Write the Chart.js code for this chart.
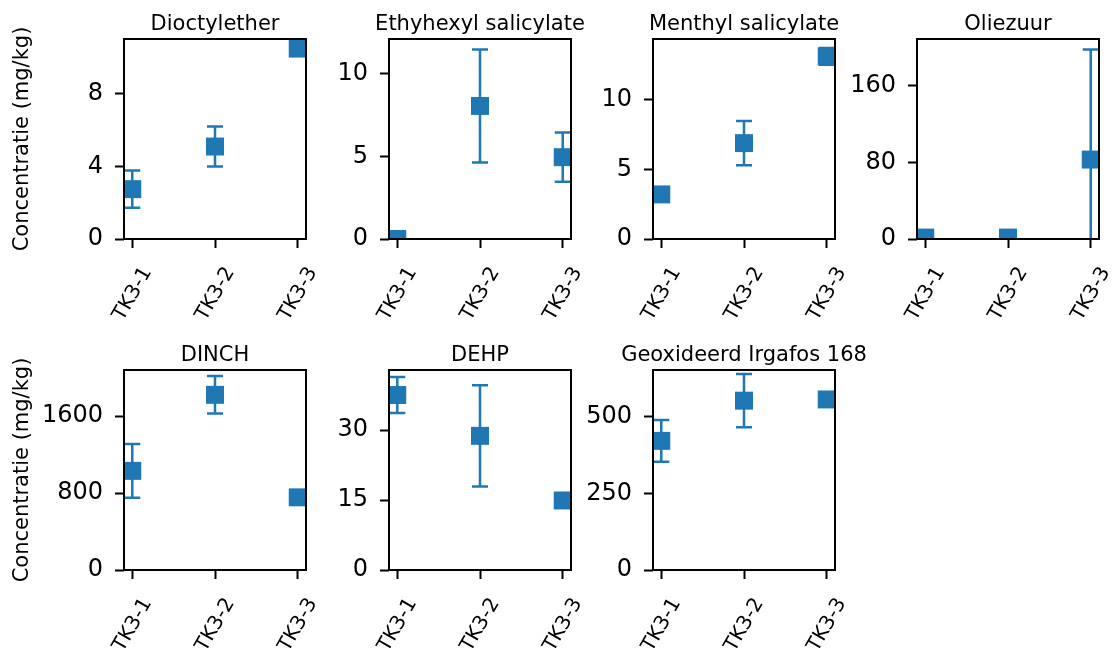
<!DOCTYPE html>
<html>
<head>
<meta charset="utf-8">
<script src="https://cdn.jsdelivr.net/npm/chart.js@4.4.0/dist/chart.umd.min.js"></script>
<style>
  html, body { margin: 0; padding: 0; background: #fff; overflow: hidden; }
  #grid { position: relative; width: 1112px; height: 648px; overflow: hidden; }
  #grid canvas { position: absolute; }
</style>
</head>
<body>
<div id="grid"></div>
<script>
// monsters en gemeten concentraties (mg/kg): gemiddelde en standaardafwijking
const samples = ['TK3-1', 'TK3-2', 'TK3-3'];

const dioctyletherMean = [2.75, 5.1, 10.5];
const dioctyletherSd = [1.03, 1.1, 0];
const ethylhexylMean = [0, 8.05, 4.95];
const ethylhexylSd = [0, 3.42, 1.49];
const menthylMean = [3.2, 6.88, 13.1];
const menthylSd = [0, 1.59, 0.6];
const oliezuurMean = [1.5, 1.5, 83];
const oliezuurSd = [0, 0, 115];
const dinchMean = [1030, 1820, 755];
const dinchSd = [280, 195, 0];
const dehpMean = [37.5, 28.75, 14.9];
const dehpSd = [3.85, 10.85, 0];
const irgafosMean = [421, 552, 556];
const irgafosSd = [68, 87, 0];

// y-as: tickwaarden en bovengrens per paneel
const dioctyletherTicks = [0, 4, 8];
const ethylhexylTicks = [0, 5, 10];
const menthylTicks = [0, 5, 10];
const oliezuurTicks = [0, 80, 160];
const dinchTicks = [0, 800, 1600];
const dehpTicks = [0, 15, 30];
const irgafosTicks = [0, 250, 500];

const panels = [
  { title: 'Dioctylether', mean: dioctyletherMean, sd: dioctyletherSd, ticks: dioctyletherTicks, yMax: 11.03, row: 0, col: 0 },
  { title: 'Ethyhexyl salicylate', mean: ethylhexylMean, sd: ethylhexylSd, ticks: ethylhexylTicks, yMax: 12.1, row: 0, col: 1 },
  { title: 'Menthyl salicylate', mean: menthylMean, sd: menthylSd, ticks: menthylTicks, yMax: 14.35, row: 0, col: 2 },
  { title: 'Oliezuur', mean: oliezuurMean, sd: oliezuurSd, ticks: oliezuurTicks, yMax: 209, row: 0, col: 3 },
  { title: 'DINCH', mean: dinchMean, sd: dinchSd, ticks: dinchTicks, yMax: 2078, row: 1, col: 0 },
  { title: 'DEHP', mean: dehpMean, sd: dehpSd, ticks: dehpTicks, yMax: 42.86, row: 1, col: 1 },
  { title: 'Geoxideerd Irgafos 168', mean: irgafosMean, sd: irgafosSd, ticks: irgafosTicks, yMax: 652, row: 1, col: 2 }
];

const BLUE = '#1f77b4';
const FONT = 'DejaVu Sans';
Chart.defaults.font.family = FONT;
Chart.defaults.color = '#000';

const colLeft = [0, 265, 529, 793];
const rowTop = [0, 331];
const CANVAS_W = 430, CANVAS_H = 360;
const AXIS_W = 124;   // ruimte links (en rechts) van het plotvlak
const XAXIS_H = 121;  // plotvlak eindigt op y = 239 binnen het canvas

// foutbalken met kapjes + zwart kader rond het plotvlak
const errorBars = {
  id: 'errorBars',
  beforeDatasetsDraw(chart) {
    const { ctx, chartArea, scales } = chart;
    const x = scales.x, y = scales.y;
    ctx.save();
    ctx.beginPath();
    ctx.rect(chartArea.left, chartArea.top, chartArea.width, chartArea.height);
    ctx.clip();
    ctx.strokeStyle = BLUE;
    ctx.lineWidth = 2.5;
    chart.data.datasets[0].data.forEach(p => {
      if (!p.sd) return;
      const px = x.getPixelForValue(p.x);
      const top = y.getPixelForValue(p.y + p.sd);
      const bot = y.getPixelForValue(p.y - p.sd);
      ctx.beginPath();
      ctx.moveTo(px, top); ctx.lineTo(px, bot);
      ctx.moveTo(px - 8, top); ctx.lineTo(px + 8, top);
      ctx.moveTo(px - 8, bot); ctx.lineTo(px + 8, bot);
      ctx.stroke();
    });
    ctx.restore();
  },
  afterDraw(chart) {
    const { ctx, chartArea } = chart;
    ctx.save();
    ctx.strokeStyle = '#000';
    ctx.lineWidth = 2;
    ctx.strokeRect(chartArea.left, chartArea.top, chartArea.width, chartArea.height);
    ctx.restore();
  }
};

const tickGrid = {
  display: true,
  drawOnChartArea: false,
  drawTicks: true,
  tickLength: 9,
  tickWidth: 2,
  tickColor: '#000'
};

function drawPanel(p) {
  const canvas = document.createElement('canvas');
  canvas.width = CANVAS_W;
  canvas.height = CANVAS_H;
  canvas.style.left = colLeft[p.col] + 'px';
  canvas.style.top = rowTop[p.row] + 'px';
  document.getElementById('grid').appendChild(canvas);

  new Chart(canvas, {
    type: 'scatter',
    data: {
      datasets: [{
        data: samples.map((s, i) => ({ x: i, y: p.mean[i], sd: p.sd[i] })),
        xAxisID: 'x',
        yAxisID: 'y',
        pointStyle: 'rect',
        pointRadius: 12.7,
        pointHoverRadius: 12.7,
        pointBackgroundColor: BLUE,
        pointBorderWidth: 0,
        clip: 0
      }]
    },
    options: {
      responsive: false,
      animation: false,
      events: [],
      layout: { padding: 0 },
      plugins: {
        legend: { display: false },
        tooltip: { enabled: false },
        title: {
          display: true,
          text: p.title,
          color: '#000',
          font: { family: FONT, size: 21, weight: 'normal' },
          padding: { top: 12, bottom: 1.8 }
        }
      },
      scales: {
        x: {
          type: 'linear',
          min: -0.1,
          max: 2.1,
          afterBuildTicks: s => { s.ticks = samples.map((_, i) => ({ value: i })); },
          afterFit: s => { s.height = XAXIS_H; s.paddingLeft = 0; s.paddingRight = 0; },
          ticks: {
            autoSkip: false,
            minRotation: 60,
            maxRotation: 60,
            padding: 15,
            labelOffset: 15,
            font: { family: FONT, size: 20 },
            color: '#000',
            callback: v => samples[v]
          },
          grid: tickGrid,
          border: { display: false }
        },
        y: {
          type: 'linear',
          position: 'left',
          min: 0,
          max: p.yMax,
          afterBuildTicks: s => { s.ticks = p.ticks.map(v => ({ value: v })); },
          afterFit: s => { s.width = AXIS_W; s.paddingTop = 0; s.paddingBottom = 0; },
          ticks: {
            padding: 12,
            font: { family: FONT, size: 24 },
            color: '#000',
            callback: v => String(v)
          },
          title: {
            display: p.col === 0,
            text: 'Concentratie (mg/kg)',
            color: '#000',
            font: { family: FONT, size: 21 },
            padding: { top: 10, bottom: 0 }
          },
          grid: tickGrid,
          border: { display: false }
        },
        // lege as rechts zodat de titel boven het plotvlak gecentreerd staat
        yPad: {
          type: 'linear',
          position: 'right',
          display: true,
          ticks: { display: false },
          grid: { display: false },
          border: { display: false },
          afterFit: s => { s.width = AXIS_W; }
        }
      }
    },
    plugins: [errorBars]
  });
}

panels.forEach(drawPanel);
</script>
</body>
</html>
